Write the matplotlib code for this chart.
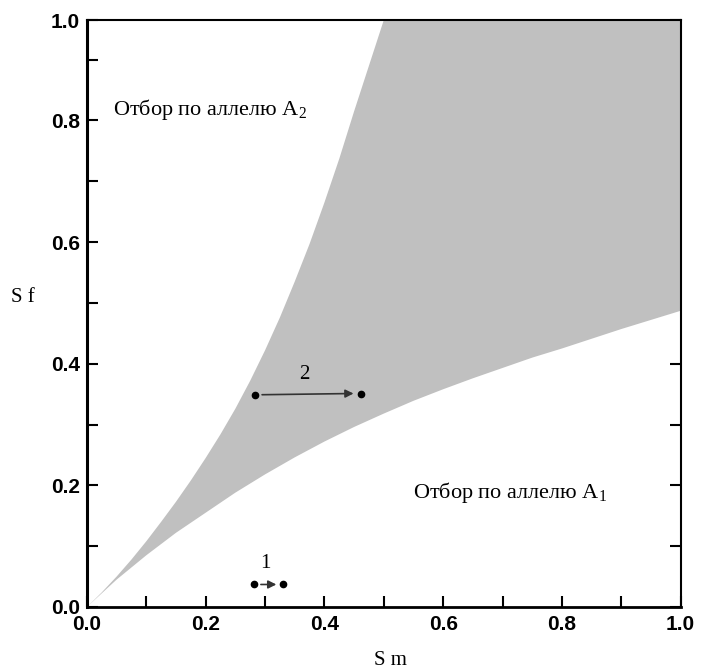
import matplotlib
matplotlib.use("Agg")
import matplotlib.pyplot as plt
from matplotlib.ticker import MultipleLocator

plt.rcParams["mathtext.fontset"] = "custom"
plt.rcParams["mathtext.rm"] = "Liberation Serif"
plt.rcParams["mathtext.default"] = "rm"

# top of the scanned axis frame (labelled "1.0" in the original)
Y_TOP = 0.965

# upper boundary of the polymorphism region
upper_sm = [0.0, 0.025, 0.05, 0.075, 0.10, 0.125, 0.15, 0.175, 0.20, 0.225,
            0.25, 0.275, 0.30, 0.325, 0.35, 0.375, 0.40, 0.425, 0.45, 0.475, 0.50]
upper_sf = [0.0, 0.024, 0.05, 0.078, 0.108, 0.14, 0.173, 0.208, 0.245, 0.284,
            0.326, 0.372, 0.422, 0.476, 0.535, 0.597, 0.665, 0.737, 0.815, 0.89, 0.965]

# lower boundary of the polymorphism region
lower_sm = [0.0, 0.05, 0.1, 0.15, 0.2, 0.25, 0.3, 0.35, 0.4, 0.45, 0.5,
            0.55, 0.6, 0.65, 0.7, 0.75, 0.8, 0.85, 0.9, 0.95, 1.0]
lower_sf = [0.0, 0.045, 0.085, 0.122, 0.155, 0.188, 0.218, 0.246, 0.272, 0.296, 0.318,
            0.339, 0.358, 0.376, 0.393, 0.41, 0.425, 0.441, 0.457, 0.472, 0.487]

# example trajectories: start / end points
traj1_sm = [0.281, 0.331]
traj1_sf = [0.037, 0.037]
traj2_sm = [0.283, 0.461]
traj2_sf = [0.349, 0.351]

ytick_pos = [0.0, 0.2, 0.4, 0.6, 0.8, Y_TOP]
ytick_lab = ["0.0", "0.2", "0.4", "0.6", "0.8", "1.0"]
xtick_pos = [0.0, 0.2, 0.4, 0.6, 0.8, 1.0]
xtick_lab = ["0.0", "0.2", "0.4", "0.6", "0.8", "1.0"]

fig = plt.figure(figsize=(7.01, 6.69), dpi=100)
ax = fig.add_axes([0.124, 0.0927, 0.847, 0.8773])

# shaded region: upper curve, along the top, down the right edge, back along lower curve
poly_x = upper_sm + [1.0] + lower_sm[::-1]
poly_y = upper_sf + [Y_TOP] + lower_sf[::-1]
ax.fill(poly_x, poly_y, color="#c0c0c0", lw=0, zorder=2.6)

for xs, ys in [(traj1_sm, traj1_sf), (traj2_sm, traj2_sf)]:
    ax.plot(xs, ys, "o", color="black", ms=4.5, zorder=5)
    ax.annotate("", xy=(xs[1] - 0.012, ys[1]), xytext=(xs[0] + 0.012, ys[0]),
                arrowprops=dict(arrowstyle="-|>", color="#333333", lw=1.2,
                                mutation_scale=12, shrinkA=0, shrinkB=0),
                zorder=5)

serif = "Liberation Serif"
ax.text(0.301, 0.072, "1", family=serif, fontsize=15, ha="center", va="center")
ax.text(0.366, 0.382, "2", family=serif, fontsize=15, ha="center", va="center", zorder=6)
ax.text(0.044, 0.818, "Отбор по аллелю A$_2$", family=serif, fontsize=16,
        ha="left", va="center")
ax.text(0.549, 0.189, "Отбор по аллелю A$_1$", family=serif, fontsize=16,
        ha="left", va="center")

fig.text(0.032, 0.555, "S f", family=serif, fontsize=15, ha="center", va="center")
fig.text(0.557, 0.013, "S m", family=serif, fontsize=15, ha="center", va="center")

ax.set_xlim(0, 1.0)
ax.set_ylim(0, Y_TOP)
ax.set_xticks(xtick_pos)
ax.set_xticklabels(xtick_lab)
ax.set_yticks(ytick_pos)
ax.set_yticklabels(ytick_lab)
ax.xaxis.set_minor_locator(MultipleLocator(0.1))
ax.yaxis.set_minor_locator(MultipleLocator(0.1))

ax.tick_params(which="both", direction="in", length=8, width=1.5,
               left=True, bottom=True, right=True, top=False)
ax.tick_params(axis="x", pad=6)
ax.tick_params(axis="y", pad=5)
for lab in ax.get_xticklabels() + ax.get_yticklabels():
    lab.set_family("Liberation Sans")
    lab.set_fontweight("bold")
    lab.set_fontsize(15)

ax.spines["left"].set_linewidth(2.2)
ax.spines["bottom"].set_linewidth(2.0)
ax.spines["top"].set_linewidth(1.5)
ax.spines["right"].set_linewidth(1.5)
for sp in ax.spines.values():
    sp.set_zorder(4)

fig.savefig("out.png", dpi=100)
